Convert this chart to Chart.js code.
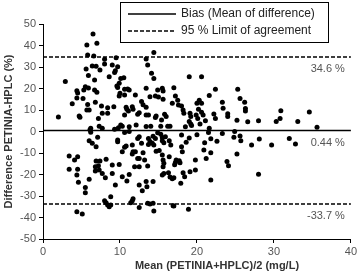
<!DOCTYPE html>
<html>
<head>
<meta charset="utf-8">
<script src="https://cdn.jsdelivr.net/npm/chart.js@4.4.1/dist/chart.umd.min.js"></script>
<style>
  html, body { margin: 0; padding: 0; background: #fff; }
  #wrap { width: 359px; height: 273px; }
</style>
</head>
<body>
<div id="wrap"><canvas id="grafico"></canvas></div>
<script>
// Mean (PETINIA+HPLC)/2 (mg/L) -> valori
const meanVals = [
  2.0, 2.9, 3.8, 4.4, 4.5, 4.4, 4.7, 4.8, 5.2, 5.3, 5.5, 5.6, 5.7, 5.8, 5.7, 5.8, 5.9, 5.9, 6.0, 6.5,
  6.4, 6.6, 6.7, 6.9, 6.8, 6.7, 7.0, 7.0, 7.2, 7.4, 7.6, 7.7, 8.0, 8.0, 8.4, 8.4, 8.6, 9.0, 9.2, 9.3,
  9.4, 9.5, 9.7, 9.6, 9.9, 9.7, 10.1, 10.0, 9.9, 10.5, 10.6, 11.0, 11.2, 10.6, 10.8, 10.9, 11.1, 10.6, 11.6, 11.7,
  12.0, 12.1, 11.2, 10.1, 10.3, 9.8, 9.3, 7.3, 6.2, 6.1, 7.7, 12.8, 13.0, 13.4, 13.4, 13.6, 13.4, 14.4, 14.1, 14.4,
  13.9, 14.6, 13.4, 13.7, 14.7, 14.6, 14.9, 15.0, 15.5, 15.6, 15.6, 15.4, 15.3, 15.8, 16.0, 16.2, 16.8, 17.0, 16.5, 12.3,
  12.5, 14.0, 13.4, 17.2, 17.5,
  19.0, 20.6, 22.4, 25.3, 25.6, 21.6, 17.6, 18.0, 18.2, 18.3, 19.1, 19.2, 19.0, 20.0, 20.3, 20.6, 20.2, 20.6, 20.8, 19.9,
  20.1, 20.4, 21.1, 18.5, 19.2, 19.3, 21.6, 22.2, 22.4, 23.3, 23.4, 24.0, 24.0, 25.2, 26.2, 26.3, 26.3, 26.6, 28.0, 30.3,
  30.8, 30.9, 33.1, 34.6, 35.6,
  21.5, 23.3, 24.9, 25.6, 25.7, 24.8, 21.8, 22.6, 21.0, 20.9, 21.2, 21.8, 19.8, 19.8, 19.1, 18.2, 18.6, 18.0, 18.0, 18.1,
  17.7, 17.8, 17.3, 17.9, 18.4, 17.0, 23.9, 24.1, 25.2, 21.8, 27.1, 28.1, 28.0, 29.7, 32.0, 32.8, 16.9, 18.9, 20.0, 19.0,
  3.4, 3.4, 4.1, 4.5, 4.5, 4.4, 4.6, 4.4, 5.1, 5.5, 5.5, 6.0, 6.0, 6.4, 6.2, 6.9, 7.1, 6.9, 7.4, 6.8,
  7.2, 6.8, 7.3, 7.7, 8.1, 8.2, 8.0, 8.2, 8.4, 8.6, 8.8, 8.8, 9.0, 9.0, 9.4, 9.7, 9.7, 9.9, 10.3, 10.3,
  10.6, 10.8, 10.9, 11.2, 10.6, 11.2, 11.4, 11.6, 11.7, 11.6, 11.6, 11.7, 12.0, 12.3, 12.5, 11.9, 12.5, 12.3, 12.5, 12.5,
  12.9, 12.5, 13.0, 12.8, 13.2, 13.4, 13.5, 13.6, 13.7, 13.9, 13.7, 13.6, 13.9, 14.3, 14.4, 14.3, 14.2, 14.4, 14.3, 14.6,
  14.9, 14.7, 15.1, 15.5, 15.7, 15.5, 15.6, 15.7, 15.6, 15.7, 15.5, 16.4, 16.6, 16.4, 16.3, 16.5, 16.8, 17.1, 17.2, 17.0,
  15.3, 15.5, 15.9
];

// Difference PETINIA-HPLC (%)
const diffVals = [
  6.7, 23.2, 12.9, 19.0, 17.9, 15.6, 7.2, 6.6, 15.3, 19.3, 20.8, 29.1, 40.2, 35.6, 10.0, 12.6, 20.2, 26.1, 10.0, 45.3,
  30.5, 35.1, 24.0, 30.4, 13.6, 19.3, 41.0, 18.2, 6.0, 28.6, 11.9, 8.5, 31.4, 33.6, 8.5, 11.1, 25.5, 30.9, 11.5, 27.5,
  28.3, 34.3, 30.1, 21.2, 22.4, 20.5, 24.7, 17.8, 16.5, 25.0, 19.6, 19.8, 19.3, 17.0, 11.3, 10.3, 9.5, 7.7, 11.5, 10.3,
  17.0, 3.0, 2.2, 3.0, 2.5, 1.8, 1.0, 2.5, 1.5, 0.8, 1.5, 13.9, 12.5, 20.1, 11.3, 30.9, 33.7, 36.8, 27.1, 24.7,
  16.2, 16.5, 7.7, 7.7, 7.2, 6.5, 19.3, 16.0, 20.1, 18.8, 15.0, 5.3, 2.5, 8.0, 7.0, 2.5, 13.1, 20.4, 2.5, 8.0,
  8.7, 2.5, 2.3, 16.5, 14.5,
  25.5, 25.5, 19.6, 19.6, 15.3, 16.7, 12.3, 11.9, 10.0, 8.5, 8.5, 7.0, 4.7, 13.1, 14.5, 13.1, 10.4, 9.0, 7.7, 7.7,
  6.0, 3.5, 5.0, 2.2, 3.5, 2.8, 1.5, 8.1, 6.0, 13.6, 10.8, 8.3, 7.0, 5.2, 13.6, 10.7, 9.5, 4.5, 5.0, 4.7,
  6.0, 9.6, 4.7, 9.1, 2.0,
  -0.5, -0.9, 0.0, -2.1, -4.3, -2.7, -3.4, -4.5, -5.2, -8.6, -12.5, -9.9, -13.3, -17.9, -18.7, -19.2, -5.0, -1.6, -7.1, -9.4,
  -13.6, -14.5, -13.3, -24.1, -21.0, -21.5, -14.0, -15.9, -10.5, -22.6, -6.3, -3.5, -19.9, -6.3, -3.2, -5.8, -34.5, -36.2, -1.5, -3.0,
  -11.4, -17.6, -13.3, -11.8, -17.6, -20.2, -23.6, -37.3, -38.4, -26.0, -28.5, -22.2, -4.3, -5.5, -0.3, -7.1, -2.7, -13.7, -13.7, -16.4,
  -15.9, -18.4, -17.9, -19.5, -21.5, -12.9, -32.2, -33.1, -34.2, -35.0, -34.2, -30.3, -15.6, -19.5, -24.9, -4.0, -4.8, -15.3, -9.4, -21.0,
  -7.3, -6.7, -23.0, 0.0, -0.5, -20.0, -33.1, -32.2, -31.3, -10.5, -6.3, -9.4, -9.4, -12.5, -12.5, -16.4, -16.4, -3.2, -2.4, -24.9,
  -27.5, -35.3, -9.9, -5.5, -13.3, -23.3, -25.7, -16.0, -3.2, -4.6, -6.1, -33.4, -33.7, -33.4, -37.0, -23.3, -5.5, -6.3, -2.2, -3.2,
  -0.6, -9.2, -8.8, -4.3, -5.2, -10.9, -13.3, -14.8, -16.4, -19.5, -20.2, -4.3, -6.3, -11.8, -19.2, -21.2, -22.0, -15.5, -14.4, -34.7,
  -1.3, -2.8, -2.4
];

// Linee di riferimento: bias e limiti di accordo
const biasVal = 0.44;
const limitVals = [34.6, -33.7];
const refLabels = ['34.6 %', '0.44 %', '-33.7 %'];
const refValues = [34.6, 0.44, -33.7];
const legendLabels = ['Bias (Mean of difference)', '95 % Limit of agreement'];

const xTicks = [0, 10, 20, 30, 40];
const yTicks = [-50, -40, -30, -20, -10, 0, 10, 20, 30, 40, 50];

const FONT = '"Liberation Sans", Arial, sans-serif';
const punti = meanVals.map((m, i) => ({ x: m, y: diffVals[i] }));
const lineaOrizz = v => [{ x: xTicks[0], y: v }, { x: xTicks[xTicks.length - 1], y: v }];

// Plugin: etichette delle linee, titolo asse x e legenda con riquadro
const decorazioni = {
  id: 'decorazioni',
  afterDatasetsDraw(chart) {
    const { ctx, scales: { x, y } } = chart;
    ctx.save();
    ctx.font = '11px ' + FONT;
    ctx.fillStyle = '#555';
    ctx.textAlign = 'right';
    ctx.textBaseline = 'middle';
    refValues.forEach((v, i) => {
      ctx.fillText(refLabels[i], x.right - 6, y.getPixelForValue(v) + 12);
    });

    // titolo asse x
    ctx.font = 'bold 11px ' + FONT;
    ctx.fillStyle = '#333';
    ctx.textAlign = 'center';
    ctx.fillText('Mean (PETINIA+HPLC)/2 (mg/L)', 217, 266);

    // legenda
    ctx.fillStyle = '#fff';
    ctx.fillRect(120.5, 2.5, 208, 40);
    ctx.strokeStyle = '#000';
    ctx.lineWidth = 1;
    ctx.strokeRect(120.5, 2.5, 208, 40);
    ctx.lineWidth = 1.5;
    ctx.beginPath();
    ctx.moveTo(128, 14); ctx.lineTo(176, 14);
    ctx.stroke();
    ctx.setLineDash([4, 2]);
    ctx.beginPath();
    ctx.moveTo(128, 31); ctx.lineTo(176, 31);
    ctx.stroke();
    ctx.setLineDash([]);
    ctx.font = '12px ' + FONT;
    ctx.fillStyle = '#222';
    ctx.textAlign = 'left';
    ctx.fillText(legendLabels[0], 181, 14);
    ctx.fillText(legendLabels[1], 181, 31);
    ctx.restore();
  }
};

new Chart(document.getElementById('grafico'), {
  type: 'scatter',
  data: {
    datasets: [
      {
        data: punti,
        backgroundColor: '#000',
        borderWidth: 0,
        pointRadius: 2.5
      },
      {
        type: 'line',
        data: lineaOrizz(biasVal),
        borderColor: '#000',
        borderWidth: 1.5,
        pointRadius: 0
      },
      ...limitVals.map(v => ({
        type: 'line',
        data: lineaOrizz(v),
        borderColor: '#000',
        borderWidth: 1.5,
        borderDash: [4, 2],
        pointRadius: 0
      }))
    ]
  },
  options: {
    responsive: true,
    maintainAspectRatio: false,
    animation: false,
    layout: { padding: { top: 24, right: 7, left: 0, bottom: 0 } },
    plugins: {
      legend: { display: false },
      tooltip: { enabled: false }
    },
    scales: {
      x: {
        type: 'linear',
        min: xTicks[0],
        max: xTicks[xTicks.length - 1],
        afterBuildTicks: s => { s.ticks = xTicks.map(v => ({ value: v })); },
        afterFit: s => { s.height = 34; },
        ticks: { color: '#555', font: { size: 11, family: FONT }, padding: 2, maxRotation: 0 },
        grid: { drawOnChartArea: false, drawTicks: true, tickLength: 4, color: '#000' },
        border: { color: '#000', width: 1 }
      },
      y: {
        type: 'linear',
        min: yTicks[0],
        max: yTicks[yTicks.length - 1],
        afterBuildTicks: s => { s.ticks = yTicks.map(v => ({ value: v })); },
        afterFit: s => { s.width = 43; },
        ticks: { color: '#555', font: { size: 11, family: FONT }, padding: 3 },
        grid: { drawOnChartArea: false, drawTicks: true, tickLength: 4, color: '#000' },
        border: { color: '#000', width: 1 },
        title: {
          display: true,
          text: 'Difference PETINIA-HPLC (%)',
          color: '#333',
          font: { size: 11, weight: 'bold', family: FONT },
          padding: { top: 2, bottom: 0 }
        }
      }
    }
  },
  plugins: [decorazioni]
});
</script>
</body>
</html>
